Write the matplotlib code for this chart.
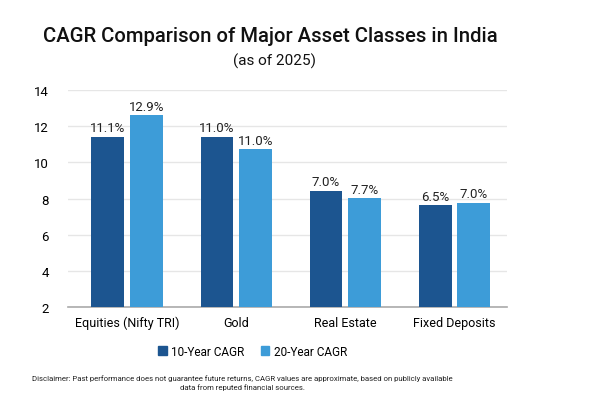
import matplotlib
matplotlib.use("Agg")
import matplotlib.pyplot as plt
import numpy as np
from matplotlib.patches import Patch

plt.rcParams['font.family'] = ['Roboto', 'DejaVu Sans']

categories = ["Equities (Nifty TRI)", "Gold", "Real Estate", "Fixed Deposits"]
bar10 = [11.42, 11.42, 8.44, 7.63]
bar20 = [12.6, 10.72, 8.05, 7.78]
label10 = ["11.1%", "11.0%", "7.0%", "6.5%"]
label20 = ["12.9%", "11.0%", "7.7%", "7.0%"]
series_names = ["10-Year CAGR", "20-Year CAGR"]
yticks = [2, 4, 6, 8, 10, 12, 14]

c10 = "#1c5590"
c20 = "#3d9cd8"

fig = plt.figure(figsize=(6.02, 4.02), dpi=100)
ax = fig.add_axes([0.113, 0.233, 0.729, 0.541])

x = np.arange(len(categories))
w = 0.30
off = 0.176
b1 = ax.bar(x - off, bar10, w, color=c10, zorder=3)
b2 = ax.bar(x + off, bar20, w, color=c20, zorder=3)

for rect, lab in zip(b1, label10):
    ax.text(rect.get_x() + rect.get_width() / 2, rect.get_height() + 0.12, lab,
            ha='center', va='bottom', fontsize=9.5, color='#222222')
for rect, lab in zip(b2, label20):
    ax.text(rect.get_x() + rect.get_width() / 2, rect.get_height() + 0.12, lab,
            ha='center', va='bottom', fontsize=9.5, color='#222222')

ax.set_ylim(2, 14)
ax.set_xlim(-0.54, 3.48)
ax.set_yticks(yticks)
ax.set_xticks(x)
ax.set_xticklabels(categories, fontsize=9)
ax.tick_params(axis='y', labelsize=9.5, length=0, pad=14)
ax.tick_params(axis='x', length=0, pad=6)
ax.yaxis.grid(True, color='#e6e6e6', linewidth=1, zorder=0)
for s in ['top', 'right', 'left']:
    ax.spines[s].set_visible(False)
ax.spines['bottom'].set_color('#aaaaaa')
ax.spines['bottom'].set_linewidth(1.2)

fig.text(0.449, 0.908, "CAGR Comparison of Major Asset Classes in India",
         ha='center', va='center', fontsize=14.6, fontweight='medium', color='#111111')
fig.text(0.456, 0.847, "(as of 2025)", ha='center', va='center', fontsize=11, color='#111111')

handles = [Patch(color=c10), Patch(color=c20)]
fig.legend(handles, series_names, loc='center', bbox_to_anchor=(0.42, 0.124),
           ncol=2, frameon=False, fontsize=8.5, handlelength=0.7, handleheight=0.7,
           handletextpad=0.4, columnspacing=1.4)

fig.text(0.402, 0.047,
         "Disclaimer: Past performance does not guarantee future returns, CAGR values are approximate, based on publicly available\ndata from reputed financial sources.",
         ha='center', va='center', fontsize=5.6, color='#222222', linespacing=1.55)

fig.savefig("out.png", dpi=100, facecolor='white')
